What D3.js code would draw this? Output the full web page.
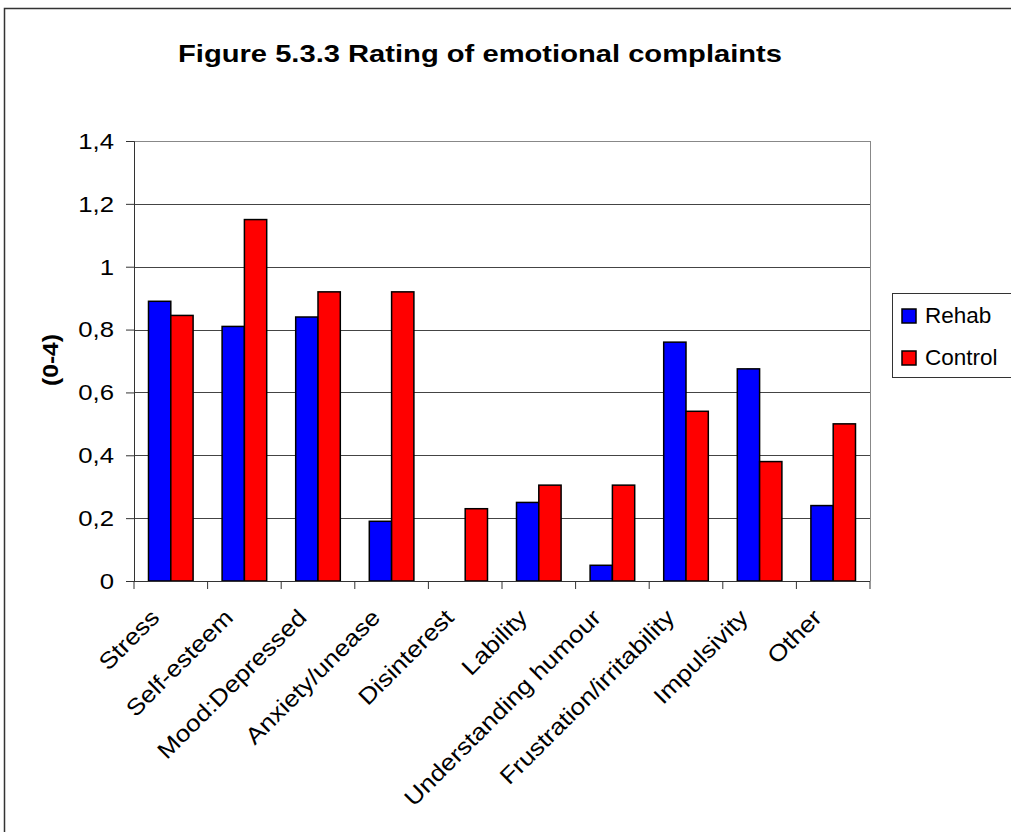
<!DOCTYPE html>
<html>
<head>
<meta charset="utf-8">
<script src="https://cdn.jsdelivr.net/npm/d3@7"></script>
<style>
  body { margin: 0; background: #fff; }
  svg { font-family: "Liberation Sans", Arial, sans-serif; }
</style>
</head>
<body>
<div id="chart"></div>
<script>
function main(){

	// data
	var categories = ["Stress", "Self-esteem", "Mood:Depressed", "Anxiety/unease", "Disinterest",
		"Lability", "Understanding humour", "Frustration/irritability", "Impulsivity", "Other"];
	var rehab   = [0.89, 0.81, 0.84, 0.19, 0, 0.25, 0.05, 0.76, 0.675, 0.24];
	var control = [0.845, 1.15, 0.92, 0.92, 0.23, 0.305, 0.305, 0.54, 0.38, 0.50];
	var seriesNames = ["Rehab", "Control"];
	var seriesColors = ["#0000ff", "#ff0000"];
	var yTicks = [0, 0.2, 0.4, 0.6, 0.8, 1, 1.2, 1.4];

	var width = 1011,
		height = 832;

	var left = 134, right = 870, top = 141, bottom = 581;

	var svg = d3.select("#chart").append("svg")
		.attr("width", width)
		.attr("height", height);

	// outer chart frame
	svg.append("rect")
		.attr("x", 4.5).attr("y", 8.5)
		.attr("width", 1100).attr("height", 1000)
		.attr("fill", "#fff")
		.attr("stroke", "#333")
		.attr("stroke-width", 1.5);

	var x = d3.scaleBand()
		.domain(categories)
		.range([left, right])
		.paddingInner(0.394)
		.paddingOuter(0.197);

	var x1 = d3.scaleBand()
		.domain(seriesNames)
		.range([0, x.bandwidth()]);

	var y = d3.scaleLinear()
		.domain([0, 1.4])
		.range([bottom, top]);

	// gridlines
	svg.append("g")
		.selectAll("line")
		.data(yTicks.slice(1))
		.enter().append("line")
		.attr("x1", left).attr("x2", right)
		.attr("y1", function(d){ return Math.round(y(d)) + 0.5; })
		.attr("y2", function(d){ return Math.round(y(d)) + 0.5; })
		.attr("stroke", function(d){ return d == 1.4 ? "#888" : "#444"; })
		.attr("stroke-width", 1);

	// right border of plot area
	svg.append("line")
		.attr("x1", right + 0.5).attr("x2", right + 0.5)
		.attr("y1", top).attr("y2", bottom)
		.attr("stroke", "#888");

	// bars
	var groups = svg.append("g")
		.selectAll("g")
		.data(categories)
		.enter().append("g")
		.attr("transform", function(d){ return "translate(" + x(d) + ",0)"; });

	groups.selectAll("rect")
		.data(function(d, i){ return [
			{ s: "Rehab", v: rehab[i], c: seriesColors[0] },
			{ s: "Control", v: control[i], c: seriesColors[1] }
		]; })
		.enter().append("rect")
		.filter(function(d){ return d.v > 0; })
		.attr("x", function(d){ return x1(d.s); })
		.attr("width", x1.bandwidth())
		.attr("y", function(d){ return y(d.v); })
		.attr("height", function(d){ return y(0) - y(d.v); })
		.attr("fill", function(d){ return d.c; })
		.attr("stroke", "#000")
		.attr("stroke-width", 1.5);

	// y axis
	var yAxis = svg.append("g")
		.attr("transform", "translate(" + left + ",0)")
		.call(d3.axisLeft(y)
			.tickValues(yTicks)
			.tickSize(8)
			.tickPadding(12)
			.tickFormat(function(d){ return String(d).replace(".", ","); }));
	yAxis.select(".domain").attr("stroke", "#333");
	yAxis.selectAll(".tick line").attr("stroke", "#333");
	yAxis.selectAll("text")
		.attr("font-size", 23)
		.attr("fill", "#000")
		.attr("font-family", "Liberation Sans, Arial, sans-serif")
		.attr("dy", "0.32em")
		.attr("x", null)
		.attr("transform", "translate(-20,0) scale(1.12,1)");

	// x axis with ticks between categories
	var xAxis = svg.append("g")
		.attr("transform", "translate(0," + bottom + ")");
	xAxis.append("line")
		.attr("x1", left).attr("x2", right)
		.attr("y1", 0.5).attr("y2", 0.5)
		.attr("stroke", "#333");
	var step = x.step();
	xAxis.selectAll("line.tk")
		.data(d3.range(categories.length + 1))
		.enter().append("line")
		.attr("class", "tk")
		.attr("x1", function(i){ return left + i * step; })
		.attr("x2", function(i){ return left + i * step; })
		.attr("y1", 0).attr("y2", 8)
		.attr("stroke", "#333");
	xAxis.selectAll("text")
		.data(categories)
		.enter().append("text")
		.attr("transform", function(d){
			return "translate(" + (x(d) + x.bandwidth() / 2 - 10) + ",38) rotate(-45) scale(1.14,1)";
		})
		.attr("text-anchor", "end")
		.attr("font-size", 23)
		.text(function(d){ return d; });

	// y axis title
	svg.append("text")
		.attr("transform", "translate(58," + 360 + ") rotate(-90) scale(1.12,1)")
		.attr("text-anchor", "middle")
		.attr("font-size", 22)
		.attr("font-weight", "bold")
		.text("(0-4)");

	// chart title
	svg.append("text")
		.attr("x", 178)
		.attr("y", 62)
		.attr("font-size", 24)
		.attr("font-weight", "bold")
		.attr("textLength", 604)
		.attr("lengthAdjust", "spacingAndGlyphs")
		.text("Figure 5.3.3 Rating of emotional complaints");

	// legend
	var legend = svg.append("g");
	legend.append("rect")
		.attr("x", 892.5).attr("y", 293.5)
		.attr("width", 200).attr("height", 84)
		.attr("fill", "#fff")
		.attr("stroke", "#333");
	seriesNames.forEach(function(name, i){
		legend.append("rect")
			.attr("x", 902).attr("y", 309 + i * 42)
			.attr("width", 14).attr("height", 14)
			.attr("fill", seriesColors[i])
			.attr("stroke", "#000")
			.attr("stroke-width", 1.5);
		legend.append("text")
			.attr("x", 925).attr("y", 323 + i * 42)
			.attr("font-size", 22.5)
			.text(name);
	});
}

main();
</script>
</body>
</html>
